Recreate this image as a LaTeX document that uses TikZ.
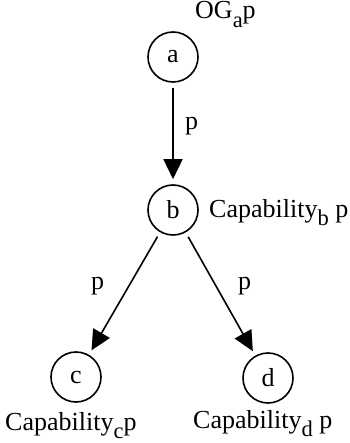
\documentclass[tikz,border=0pt]{standalone}
\usepackage{fontspec}
\setmainfont{Liberation Serif}
\usetikzlibrary{arrows.meta}
\newcommand{\lowsub}[1]{\raisebox{-0.34em}{\fontsize{22.5}{22.5}\selectfont #1}}
\tikzset{
  state/.style={draw, circle, line width=1.6pt, minimum size=50pt, inner sep=0pt, font=\fontsize{26}{28}\selectfont},
  lbl/.style={inner sep=0pt, font=\fontsize{26}{28}\selectfont},
  arr/.style={line width=1.6pt, -{Triangle[length=20pt,width=19pt]}, shorten <=5pt, shorten >=5pt}
}
\begin{document}
\begin{tikzpicture}[x=1pt,y=-1pt]
\useasboundingbox (0,0) rectangle (349,443);
\node[state] (a) at (173,57) {a};
\node[state] (b) at (173,210) {b};
\node[state] (c) at (76,377) {c};
\node[state] (d) at (268,378) {d};
\draw[arr] (a) -- (b);
\draw[arr] (b) -- (c);
\draw[arr] (b) -- (d);
\node[lbl, anchor=base west] (la) at (195,19) {OG\lowsub{a}p};
\node[lbl, anchor=base west] (lb) at (209,217) {Capability\lowsub{b} p};
\node[lbl, anchor=base west] (lc) at (5,430) {Capability\lowsub{c}p};
\node[lbl, anchor=base west] (ld) at (193,428) {Capability\lowsub{d} p};
\node[lbl, anchor=base west] (pab) at (185,130) {p};
\node[lbl, anchor=base west] (pbc) at (91,289) {p};
\node[lbl, anchor=base west] (pbd) at (238,289) {p};
\end{tikzpicture}
\end{document}
